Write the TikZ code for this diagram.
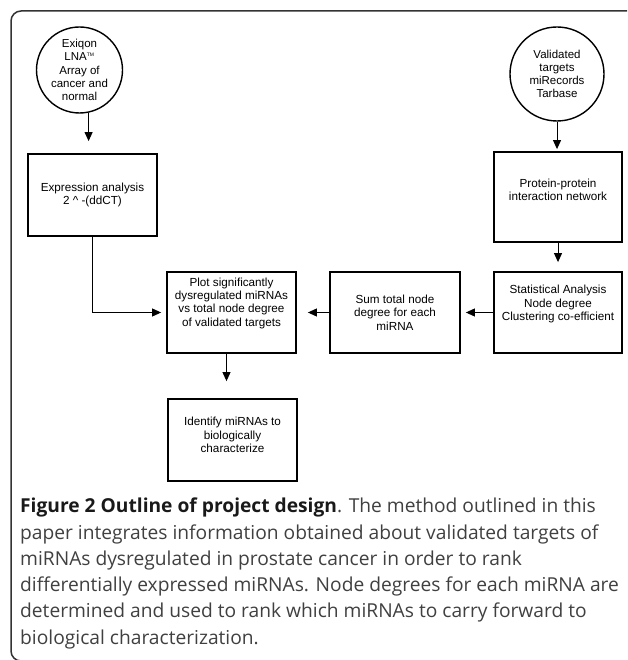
\documentclass[tikz,border=0pt]{standalone}
\usepackage{fontspec}
\setmainfont{Liberation Sans}
\newfontfamily\capfont{Open Sans}
\usetikzlibrary{positioning, arrows.meta, shapes}

\begin{document}
\begin{tikzpicture}[x=1pt, y=-1pt,
    stepbox/.style={rectangle, draw, line width=1.8pt, minimum width=129pt, align=center, font=\fontsize{11.7}{13.4}\selectfont},
    source/.style={circle, draw, line width=1.4pt, inner sep=0pt, align=center, font=\fontsize{11.5}{13.2}\selectfont},
    flow/.style={-{Triangle[length=9pt, width=8pt]}, line width=1pt}]
    \useasboundingbox (0,0) rectangle (627,660);
    \clip (0,0) rectangle (627,660);

    % frame of the figure
    \draw[line width=1.5pt, draw=black!80, rounded corners=10pt] (640,11) -- (11,11) -- (11,661) -- (640,661);

    \node[source, minimum size=86pt] (exiqon) at (79.5,70) {Exiqon\\LNA\textsuperscript{\tiny TM}\\Array of\\cancer and\\normal};
    \node[source, minimum size=94pt] (valid) at (557,74) {Validated\\targets\\miRecords\\Tarbase};

    \node[stepbox, minimum height=82pt] (expr) at (92.5,195) {Expression analysis\\2 \textasciicircum{} -(ddCT)};
    \node[stepbox, minimum width=128pt, minimum height=90pt] (ppi) at (558,197) {Protein-protein\\interaction network\\[0.6pt]\mbox{}};
    \node[stepbox, minimum height=81pt] (plot) at (231.5,312.5) {Plot significantly\\dysregulated miRNAs\\vs total node degree\\of validated targets\\[7.6pt]\mbox{}};
    \node[stepbox, minimum width=130pt, minimum height=81pt] (sum) at (395,312.5) {Sum total node\\degree for each\\miRNA};
    \node[stepbox, minimum width=128pt, minimum height=81pt] (stat) at (558,312.5) {Statistical Analysis\\Node degree\\Clustering co-efficient\\[5.6pt]\mbox{}};
    \node[stepbox, minimum height=82pt] (ident) at (232.5,440) {Identify miRNAs to\\biologically\\characterize\\[-3.4pt]\mbox{}};

    \draw[flow, shorten >=12pt] (exiqon.-78) -- (exiqon.-78 |- expr.north);
    \draw[flow, shorten >=2pt] (valid.south) -- (valid.south |- ppi.north);
    \draw[flow, shorten >=9pt] (ppi) -- (stat);
    \draw[flow, shorten >=5pt] (stat) -- (sum);
    \draw[flow, shorten >=11pt] (sum) -- (plot);
    \draw[flow, shorten >=5pt] (expr) |- (plot);
    \draw[flow, shorten >=17pt] ([xshift=-5pt]plot.south) -- ([xshift=-5pt]plot.south |- ident.north);

    % caption
    \node[anchor=north west, align=left, inner sep=0pt, text=black!75, font=\capfont\fontsize{19.2}{26.25}\selectfont] (caption) at (20,498)
        {\textcolor{black!90}{\textbf{Figure 2 Outline of project design}}. The method outlined in this\\
         paper integrates information obtained about validated targets of\\
         miRNAs dysregulated in prostate cancer in order to rank\\
         differentially expressed miRNAs. Node degrees for each miRNA are\\
         determined and used to rank which miRNAs to carry forward to\\
         biological characterization.};
\end{tikzpicture}
\end{document}
